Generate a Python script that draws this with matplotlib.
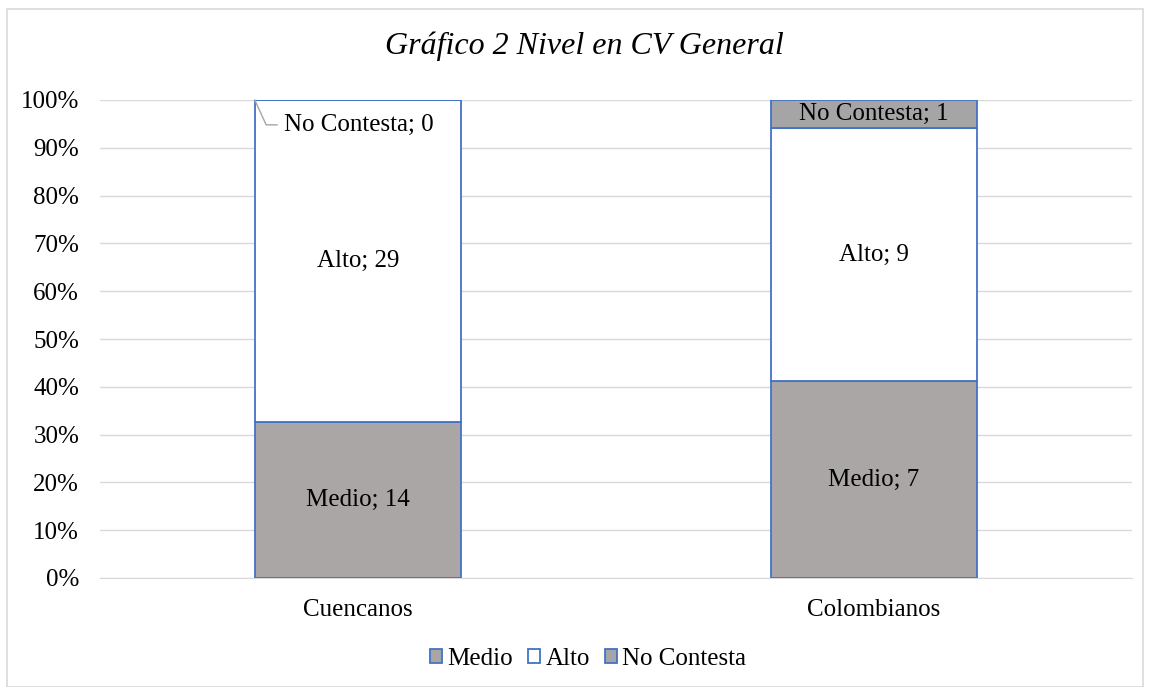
import numpy as np
import matplotlib.pyplot as plt
from matplotlib.patches import Rectangle

# Data
categories = ['Cuencanos', 'Colombianos']
series = ['Medio', 'Alto', 'No Contesta']
medio = [14, 7]
alto = [29, 9]
no_contesta = [0, 1]

plt.rcParams['font.family'] = ['Liberation Serif', 'DejaVu Serif']

values = np.array([medio, alto, no_contesta], dtype=float)
totals = values.sum(axis=0)
shares = values / totals * 100

fills = ['#A9A6A5', '#FFFFFF', '#A5A5A5']
edge = '#4472C4'
width = 0.4

fig = plt.figure(figsize=(11.51, 6.87), dpi=100)
ax = fig.add_axes([100 / 1151, (687 - 578) / 687, 1032 / 1151, 478 / 687])

x = np.arange(len(categories))
bottom = np.zeros(len(categories))
for i, name in enumerate(series):
    ax.bar(x, shares[i], width, bottom=bottom, color=fills[i], edgecolor=edge,
           linewidth=1.3, label=name, zorder=3)
    for j in range(len(categories)):
        lab = f'{name}; {int(values[i, j])}'
        if values[i, j] == 0:
            # leader line from the bar corner to the label
            top = bottom[j] + shares[i, j]
            x0 = x[j] - width / 2
            ax.plot([x0, x0 + 0.022, x0 + 0.043], [top, top - 5.2, top - 5.2],
                    color='#A6A6A6', lw=1, zorder=5, clip_on=False)
            ax.text(x0 + 0.056, top - 5.2, lab, ha='left', va='center',
                    fontsize=18, zorder=5)
        else:
            ax.text(x[j], bottom[j] + shares[i, j] / 2, lab, ha='center', va='center',
                    fontsize=18, zorder=5)
    bottom += shares[i]

ax.set_xlim(-0.5, 1.5)
ax.set_ylim(0, 100)
ax.set_yticks(np.arange(0, 101, 10))
ax.set_yticklabels([f'{v}%' for v in range(0, 101, 10)])
ax.set_xticks(x)
ax.set_xticklabels(categories)
ax.tick_params(length=0, labelsize=18, colors='#000000')
ax.tick_params(axis='y', pad=15)
ax.tick_params(axis='x', pad=15)
ax.grid(axis='y', color='#D9D9D9', linewidth=1, zorder=0)
for s in ['top', 'right', 'left']:
    ax.spines[s].set_visible(False)
ax.spines['bottom'].set_color('#D9D9D9')

fig.text(584 / 1151, 1 - 46 / 687, 'Gráfico 2 Nivel en CV General', ha='center', va='center',
         fontsize=23, style='italic')

fig.legend(loc='center', bbox_to_anchor=(588 / 1151, 1 - 659 / 687), ncol=3, frameon=False,
           fontsize=18, handlelength=0.5, handleheight=0.5, handletextpad=0.2,
           columnspacing=0.6)

fig.patches.append(Rectangle((7 / 1151, 0), 1136 / 1151, 1 - 9 / 687, transform=fig.transFigure,
                             fill=False, edgecolor='#D9D9D9', linewidth=1.2))

fig.savefig('out.png', dpi=100)
